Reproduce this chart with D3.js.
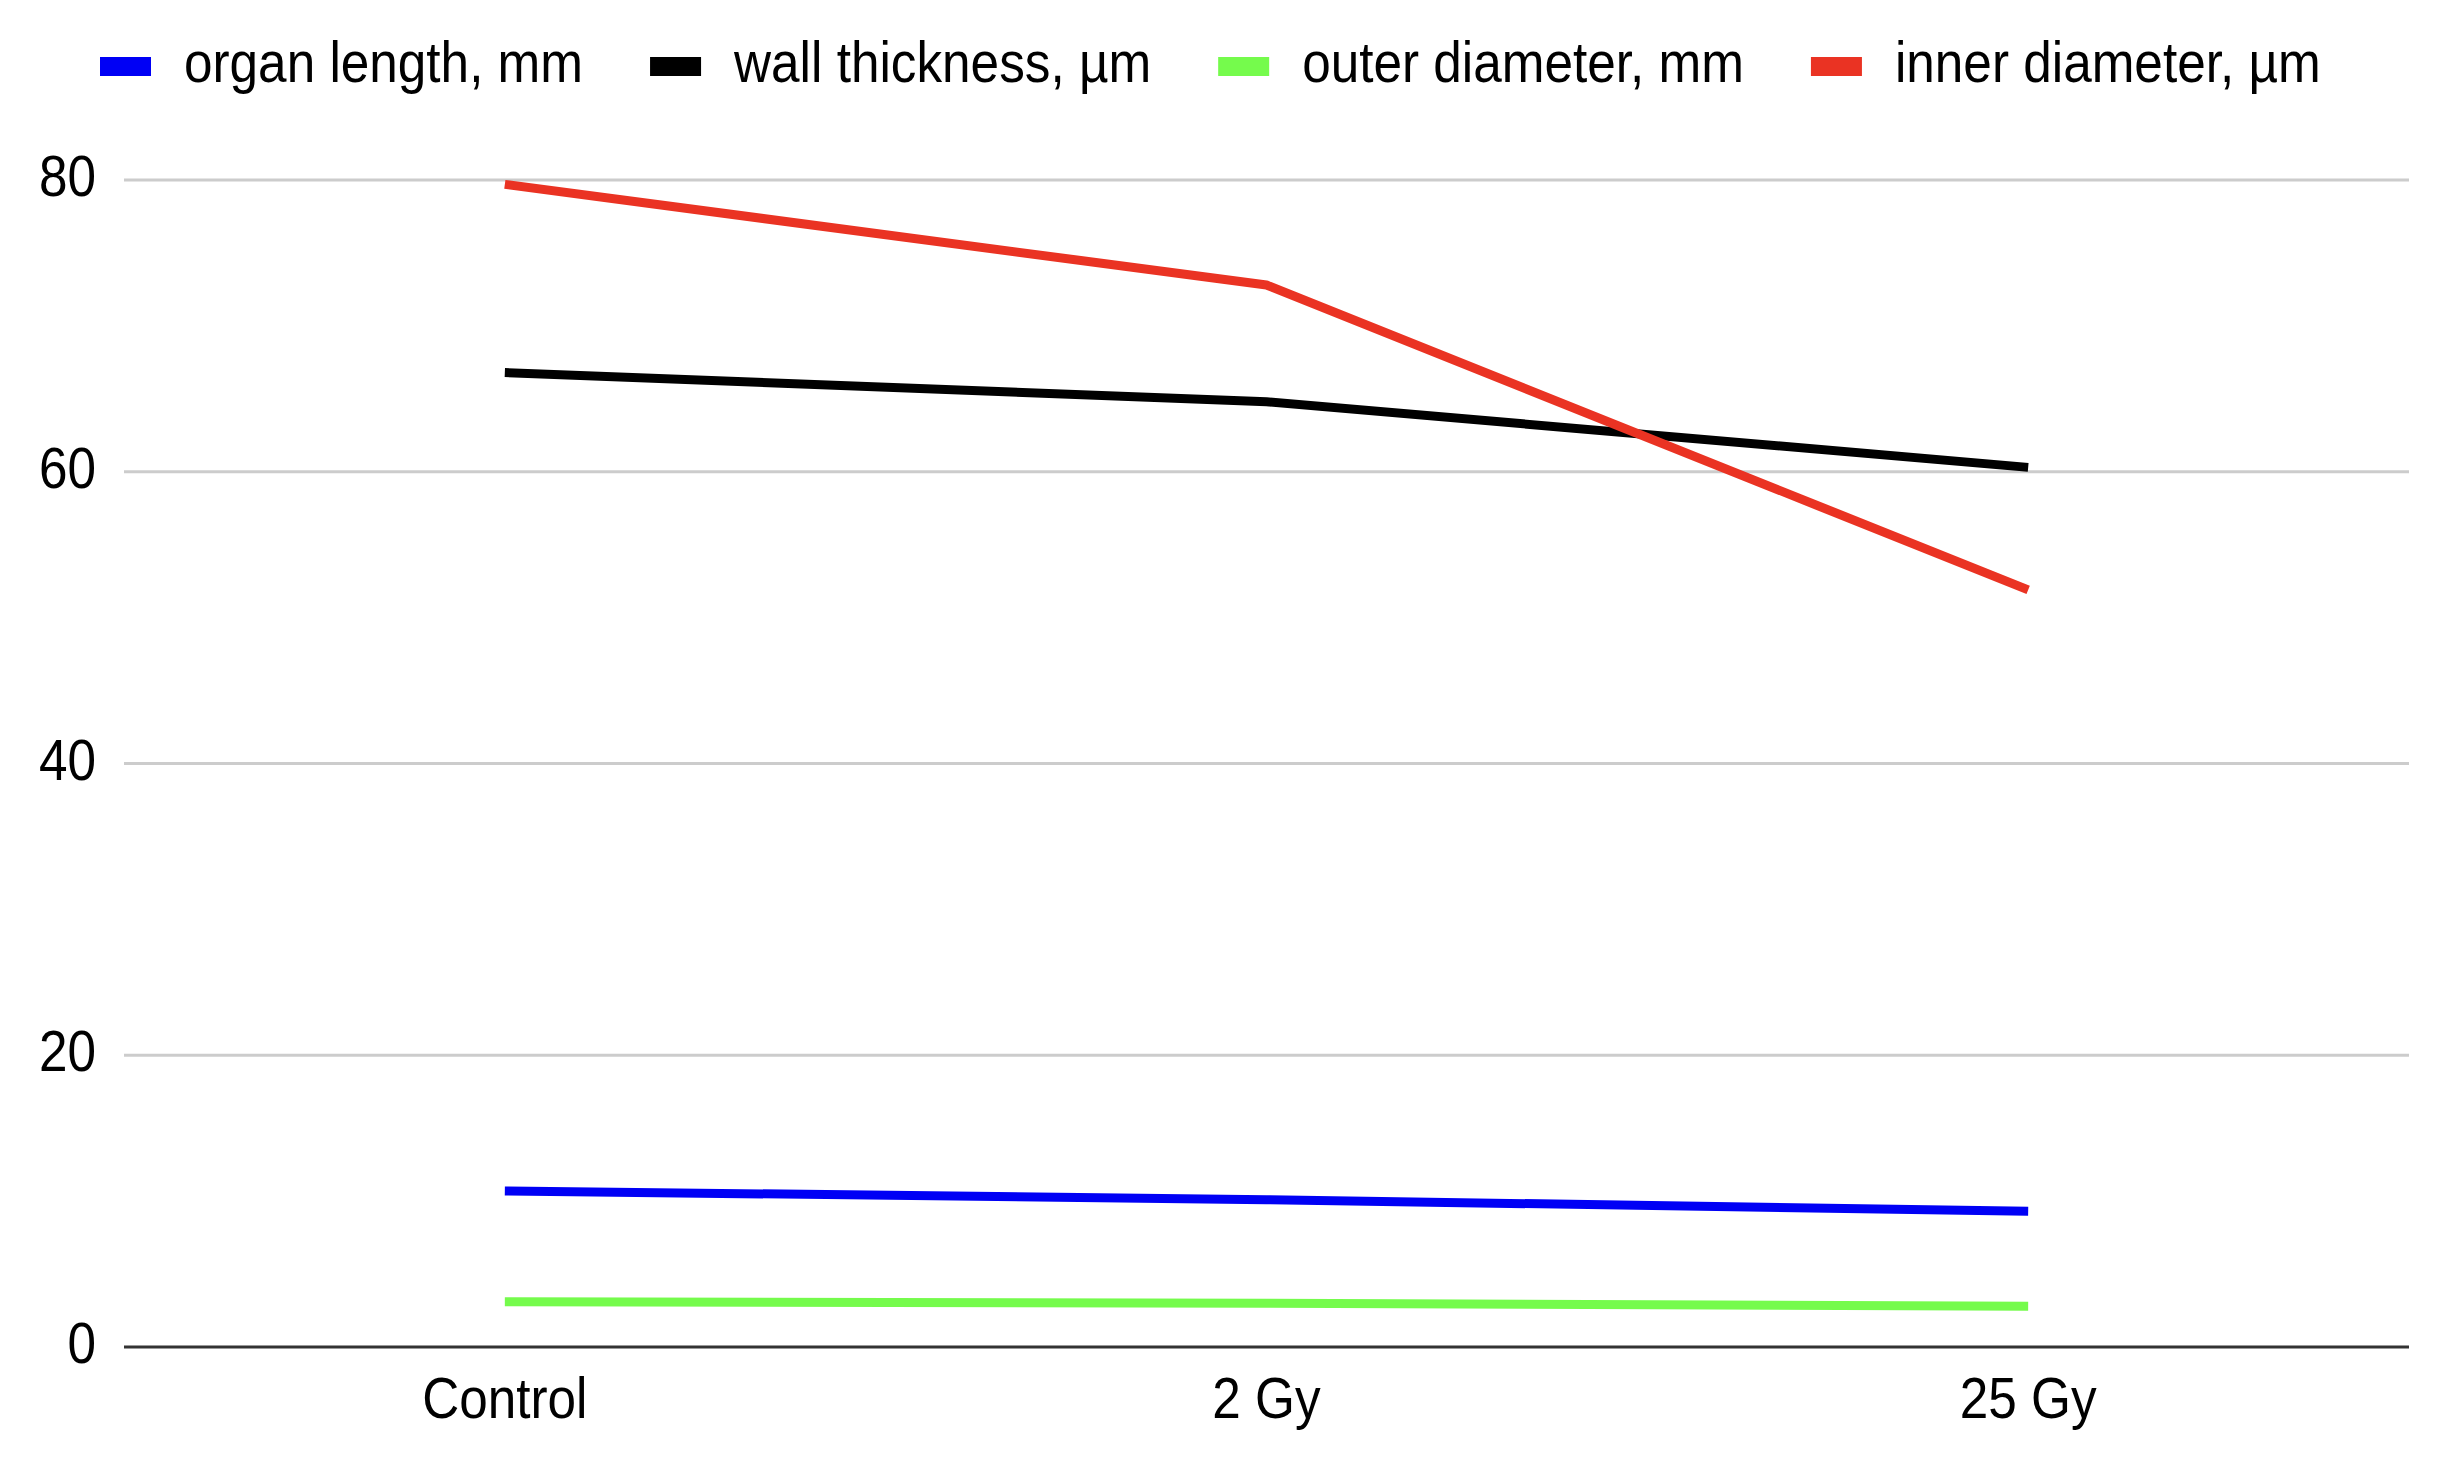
<!DOCTYPE html>
<html>
<head>
<meta charset="utf-8">
<script src="https://cdn.jsdelivr.net/npm/d3@7"></script>
<style>
  html, body { margin: 0; padding: 0; background: #ffffff; }
  svg { display: block; }
  text { font-family: "Liberation Sans", Arial, sans-serif; fill: #000; }
</style>
</head>
<body>
<svg id="chart" width="2440" height="1463"></svg>
<script>
// ---- data ----
const categories = ["Control", "2 Gy", "25 Gy"];
const seriesNames = ["organ length, mm", "wall thickness, µm", "outer diameter, mm", "inner diameter, µm"];
const seriesColors = ["#0000f5", "#000000", "#75fb4c", "#ea3323"];
const organLength = [10.7, 10.1, 9.3];
const wallThickness = [66.8, 64.8, 60.3];
const outerDiameter = [3.1, 3.0, 2.8];
const innerDiameter = [79.7, 72.8, 51.9];
const yTicks = [0, 20, 40, 60, 80];

const seriesValues = [organLength, wallThickness, outerDiameter, innerDiameter];

// ---- layout ----
const svg = d3.select("#chart");
const plotLeft = 124, plotRight = 2409, plotTop = 180, plotBottom = 1347;
const fontSize = 51.3, vStretch = 1.1;

const x = d3.scalePoint().domain(categories).range([plotLeft, plotRight]).padding(0.5);
const y = d3.scaleLinear().domain([0, 80]).range([plotBottom, plotTop]);

// gridlines
svg.append("g").selectAll("line")
  .data(yTicks.filter(d => d !== 0))
  .join("line")
  .attr("x1", plotLeft).attr("x2", plotRight)
  .attr("y1", d => y(d)).attr("y2", d => y(d))
  .attr("stroke", "#cccccc").attr("stroke-width", 3);

// y tick labels
svg.append("g").selectAll("text")
  .data(yTicks)
  .join("text")
  .attr("text-anchor", "end")
  .attr("font-size", fontSize)
  .attr("transform", d => `translate(96,${y(d) + 16}) scale(1,${vStretch})`)
  .text(d => d);

// lines
const line = d3.line()
  .x((d, i) => x(categories[i]))
  .y(d => y(d));

svg.append("g").selectAll("path")
  .data(seriesValues)
  .join("path")
  .attr("d", d => line(d))
  .attr("fill", "none")
  .attr("stroke", (d, i) => seriesColors[i])
  .attr("stroke-width", 9)
  .attr("stroke-linejoin", "round")
  .attr("stroke-linecap", "butt");

// x axis baseline
svg.append("line")
  .attr("x1", plotLeft).attr("x2", plotRight)
  .attr("y1", y(0)).attr("y2", y(0))
  .attr("stroke", "#333333").attr("stroke-width", 3);

// x labels
svg.append("g").selectAll("text")
  .data(categories)
  .join("text")
  .attr("text-anchor", "middle")
  .attr("font-size", fontSize)
  .attr("transform", d => `translate(${x(d)},1418) scale(1,${vStretch})`)
  .text(d => d);

// legend
const legend = svg.append("g");
let lx = 100;
seriesNames.forEach((name, i) => {
  legend.append("rect")
    .attr("x", lx).attr("y", 57)
    .attr("width", 51).attr("height", 19)
    .attr("fill", seriesColors[i]);
  const t = legend.append("text")
    .attr("font-size", fontSize)
    .attr("transform", `translate(${lx + 84},82) scale(1,${vStretch})`)
    .text(name);
  const w = t.node().getComputedTextLength();
  lx = lx + 84 + w + 67;
});
</script>
</body>
</html>
